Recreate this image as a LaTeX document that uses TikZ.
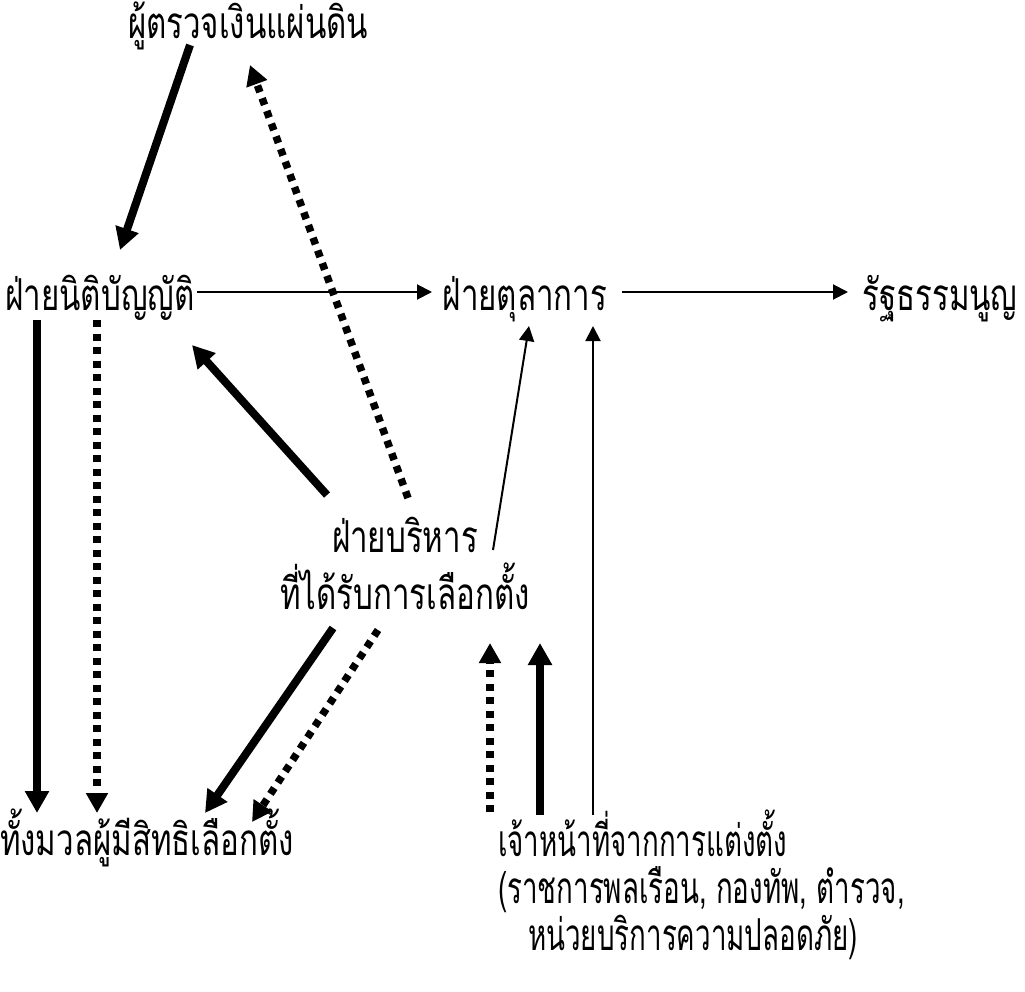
\documentclass[tikz,border=0pt]{standalone}
\usepackage{fontspec}
\usepackage{tikz}
\usetikzlibrary{arrows.meta}
\newfontfamily\thaifont[Script=Thai,FakeStretch=0.71]{Loma}
\newfontfamily\thainarrow[Script=Thai,FakeStretch=0.63]{Loma}

\begin{document}
\begin{tikzpicture}[x=1pt,y=-1pt,
    lbl/.style={anchor=base,inner sep=0pt,align=center,font=\thaifont\fontsize{44}{57}\selectfont},
    thickarr/.style={line width=8pt,-{Triangle[width=23pt,length=22pt]}},
    dotarr/.style={line width=7.5pt,dash pattern=on 7pt off 6.5pt,-{Triangle[width=21pt,length=20pt]}},
    thinarr/.style={line width=2pt,-{Triangle[width=15pt,length=15pt]}}]
  \useasboundingbox (0,0) rectangle (1025,991);

  \node[lbl] (aud) at (248,38) {ผู้ตรวจเงินแผ่นดิน};
  \node[lbl] (leg) at (100,310) {ฝ่ายนิติบัญญัติ};
  \node[lbl] (jud) at (525,310) {ฝ่ายตุลาการ};
  \node[lbl] (con) at (940,310) {รัฐธรรมนูญ};
  \node[lbl] (exe) at (405,609) {ฝ่ายบริหาร\\ที่ได้รับการเลือกตั้ง};
  \node[lbl] (vot) at (147,855) {ทั้งมวลผู้มีสิทธิเลือกตั้ง};
  \node[lbl,anchor=base west,align=left,font=\thainarrow\fontsize{44}{47}\selectfont] (off) at (498,950)
    {เจ้าหน้าที่จากการแต่งตั้ง\\(ราชการพลเรือน, กองทัพ, ตำรวจ,\\\hspace*{30pt}หน่วยบริการความปลอดภัย)};

  \draw[thickarr] ([shift={(-58,7)}]aud.base) -- ([shift={(20,-60)}]leg.base);
  \draw[dotarr] ([shift={(3,-111)}]exe.base) -- ([shift={(2,27)}]aud.base);
  \draw[thinarr] ([shift={(97,-18)}]leg.base) -- ([shift={(-93,-18)}]jud.base);
  \draw[thinarr] ([shift={(97,-18)}]jud.base) -- ([shift={(-92,-18)}]con.base);
  \draw[thickarr] ([shift={(-78,-114)}]exe.base) -- ([shift={(92,35)}]leg.base);
  \draw[thinarr] ([shift={(88,-59)}]exe.base) -- ([shift={(4,16)}]jud.base);
  \draw[thinarr] ([shift={(95,-135)}]off.base west) -- ([shift={(68,16)}]jud.base);
  \draw[thickarr] ([shift={(-63,10)}]leg.base) -- ([shift={(-110,-42)}]vot.base);
  \draw[dotarr] ([shift={(-3,10)}]leg.base) -- ([shift={(-50,-42)}]vot.base);
  \draw[thickarr] ([shift={(-72,19)}]exe.base) -- ([shift={(58,-42)}]vot.base);
  \draw[dotarr] ([shift={(-27,21)}]exe.base) -- ([shift={(105,-33)}]vot.base);
  \draw[dotarr] ([shift={(-8,-138)}]off.base west) -- ([shift={(85,34)}]exe.base);
  \draw[thickarr] ([shift={(42,-135)}]off.base west) -- ([shift={(135,34)}]exe.base);
\end{tikzpicture}
\end{document}
